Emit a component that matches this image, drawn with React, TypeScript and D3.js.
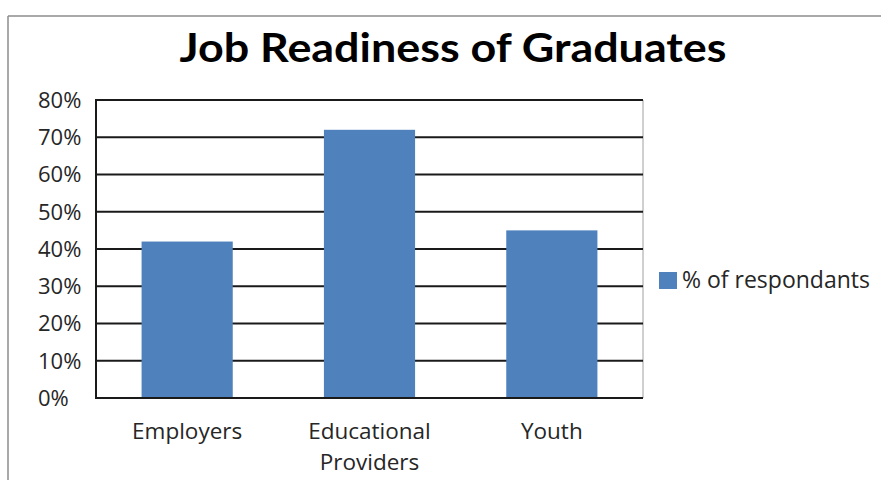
import React from "react";
import * as d3 from "d3";

const categories: string[][] = [["Employers"], ["Educational", "Providers"], ["Youth"]];
const categoryKeys = ["Employers", "Educational Providers", "Youth"];
const values = [0.42, 0.72, 0.45];
const yTicks = [0, 0.1, 0.2, 0.3, 0.4, 0.5, 0.6, 0.7, 0.8];
const title = "Job Readiness of Graduates";
const seriesName = "% of respondants";

const W = 881;
const H = 480;
const plot = { left: 96, right: 643, top: 100, bottom: 398 };
const FONT = "'Open Sans', sans-serif";
const TITLE_FONT = "Lato, 'Open Sans', sans-serif";
const BLUE = "#4F81BD";
const TEXT = "#262626";

export default function App() {
  const x = d3.scaleBand<string>().domain(categoryKeys).range([plot.left, plot.right]).padding(0);
  const y = d3.scaleLinear().domain([0, 0.8]).range([plot.bottom, plot.top]);
  const bw = x.bandwidth() * 0.5;
  const fmt = d3.format(".0%");
  return (
    <svg width={W} height={H} style={{ position: "absolute", left: 0, top: 0, background: "#fff" }}>
      <rect x={0} y={0} width={W} height={H} fill="#fff" />
      <line x1={8} y1={16} x2={W} y2={16} stroke="#8c8c8c" strokeWidth={1.5} />
      <line x1={8} y1={16} x2={8} y2={H} stroke="#8c8c8c" strokeWidth={1.5} />
      <text x={453} y={62} textAnchor="middle" fontFamily={TITLE_FONT} fontWeight={700} fontSize={41}
        textLength={547} lengthAdjust="spacingAndGlyphs" fill="#000">{title}</text>
      <line x1={plot.right} y1={plot.top} x2={plot.right} y2={plot.bottom} stroke="#a0a0a0" strokeWidth={1} />
      {yTicks.map((t) => (
        <g key={t}>
          <line x1={plot.left} x2={plot.right} y1={y(t)} y2={y(t)} stroke="#1a1a1a" strokeWidth={2} />
          <text x={38} y={y(t)} dy="0.36em" textAnchor="start" fontFamily={FONT} fontSize={22} fill={TEXT}>{fmt(t)}</text>
        </g>
      ))}
      {categoryKeys.map((c, i) => (
        <rect key={c} x={(x(c) as number) + x.bandwidth() / 4} width={bw} y={y(values[i])}
          height={y(0) - y(values[i])} fill={BLUE} />
      ))}
      <line x1={plot.left} x2={plot.left} y1={plot.top - 1} y2={plot.bottom + 1} stroke="#1a1a1a" strokeWidth={2} />
      <line x1={plot.left} x2={plot.right} y1={plot.bottom} y2={plot.bottom} stroke="#1a1a1a" strokeWidth={2} />
      {categoryKeys.map((c, i) => (
        <text key={c} x={(x(c) as number) + x.bandwidth() / 2} y={439} textAnchor="middle"
          fontFamily={FONT} fontSize={22.5} fill={TEXT}>
          {categories[i].map((line, j) => (
            <tspan key={j} x={(x(c) as number) + x.bandwidth() / 2} dy={j === 0 ? 0 : 31}>{line}</tspan>
          ))}
        </text>
      ))}
      <rect x={659} y={272} width={18} height={17} fill={BLUE} />
      <text x={682} y={288} fontFamily={FONT} fontSize={23} fill={TEXT}>{seriesName}</text>
    </svg>
  );
}
